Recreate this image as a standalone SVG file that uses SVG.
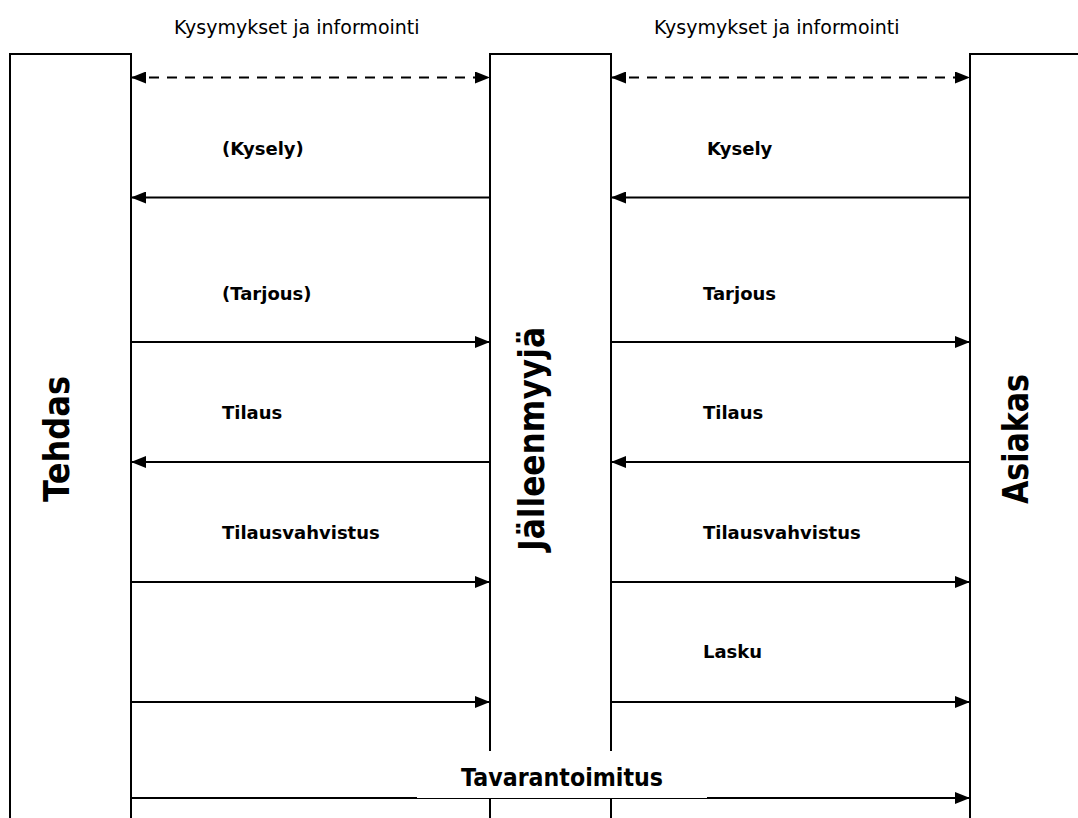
<svg xmlns="http://www.w3.org/2000/svg" width="1078" height="818" viewBox="0 0 1078 818">
<style>
.box{fill:#fff;stroke:#000;stroke-width:2}
.ln{stroke:#000;stroke-width:2;fill:none}
.dash{stroke:#000;stroke-width:2;fill:none;stroke-dasharray:10 8}
.lbl{font-family:"DejaVu Sans",Verdana,sans-serif;font-weight:bold;font-size:18px;fill:#000}
.top{font-family:"DejaVu Sans",Verdana,sans-serif;font-size:19px;fill:#000}
.vert{font-family:"DejaVu Sans",Verdana,sans-serif;font-weight:bold;font-size:36px;fill:#000;text-anchor:middle}
.big{font-family:"DejaVu Sans",Verdana,sans-serif;font-weight:bold;font-size:24px;fill:#000;text-anchor:middle}
</style>
<defs>
<marker id="ah" markerUnits="userSpaceOnUse" markerWidth="16" markerHeight="12" refX="15" refY="6" orient="auto-start-reverse">
<path d="M0,0 L15,6 L0,12 Z" fill="#000"/>
</marker>
</defs>
<rect width="1078" height="818" fill="#fff"/>
<g id="tehdas">
<rect class="box" x="10" y="54" width="121" height="790"/>
<text class="vert" transform="translate(69,439) rotate(-90)" textLength="126" lengthAdjust="spacingAndGlyphs">Tehdas</text>
</g>
<g id="jalleenmyyja">
<rect class="box" x="490" y="54" width="121" height="790"/>
<text class="vert" transform="translate(544,439) rotate(-90)" textLength="224" lengthAdjust="spacingAndGlyphs">Jälleenmyyjä</text>
</g>
<g id="asiakas">
<rect class="box" x="970" y="54" width="121" height="790"/>
<text class="vert" transform="translate(1028,439) rotate(-90)" textLength="130" lengthAdjust="spacingAndGlyphs">Asiakas</text>
</g>
<g id="connectors">
<line class="dash" x1="131" y1="77.5" x2="490" y2="77.5" marker-start="url(#ah)" marker-end="url(#ah)"/>
<line class="dash" x1="611" y1="77.5" x2="970" y2="77.5" marker-start="url(#ah)" marker-end="url(#ah)"/>
<line class="ln" x1="490" y1="197.5" x2="131" y2="197.5" marker-end="url(#ah)"/>
<line class="ln" x1="970" y1="197.5" x2="611" y2="197.5" marker-end="url(#ah)"/>
<line class="ln" x1="131" y1="342" x2="490" y2="342" marker-end="url(#ah)"/>
<line class="ln" x1="611" y1="342" x2="970" y2="342" marker-end="url(#ah)"/>
<line class="ln" x1="490" y1="462" x2="131" y2="462" marker-end="url(#ah)"/>
<line class="ln" x1="970" y1="462" x2="611" y2="462" marker-end="url(#ah)"/>
<line class="ln" x1="131" y1="582" x2="490" y2="582" marker-end="url(#ah)"/>
<line class="ln" x1="611" y1="582" x2="970" y2="582" marker-end="url(#ah)"/>
<line class="ln" x1="131" y1="702" x2="490" y2="702" marker-end="url(#ah)"/>
<line class="ln" x1="611" y1="702" x2="970" y2="702" marker-end="url(#ah)"/>
<line class="ln" x1="131" y1="798" x2="970" y2="798" marker-end="url(#ah)"/>
</g>
<g id="labels">
<text class="top" x="174" y="34">Kysymykset ja informointi</text>
<text class="top" x="654" y="34">Kysymykset ja informointi</text>
<text class="lbl" x="222" y="155">(Kysely)</text>
<text class="lbl" x="707" y="155">Kysely</text>
<text class="lbl" x="222" y="300">(Tarjous)</text>
<text class="lbl" x="703" y="300">Tarjous</text>
<text class="lbl" x="222" y="419">Tilaus</text>
<text class="lbl" x="703" y="419">Tilaus</text>
<text class="lbl" x="222" y="539">Tilausvahvistus</text>
<text class="lbl" x="703" y="539">Tilausvahvistus</text>
<text class="lbl" x="703" y="658">Lasku</text>
</g>
<g id="tavarantoimitus">
<rect x="417" y="751" width="290" height="47" fill="#fff"/>
<text class="big" x="562" y="786" textLength="202" lengthAdjust="spacingAndGlyphs">Tavarantoimitus</text>
</g>
</svg>
